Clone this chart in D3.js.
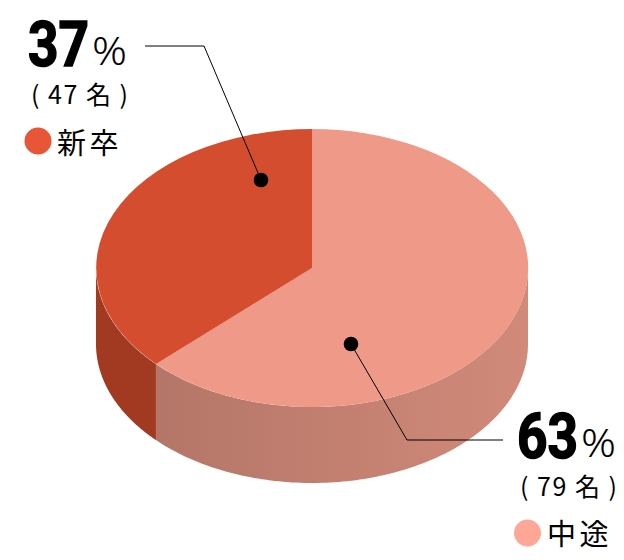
<!DOCTYPE html>
<html><head><meta charset="utf-8">
<script src="https://cdn.jsdelivr.net/npm/d3@7"></script>
<style>html,body{margin:0;background:#fff}svg{display:block}text{fill:#000}</style>
</head><body><svg id="c" width="624" height="560"></svg>
<script>
const categories = ["中途","新卒"];
const shares = [62.85,37.15];
const shareLabels = ["63","37"];
const counts = [79,47];
const topColors = ["#ef9a89","#d54d2f"];
const legendColors = ["#ffa797","#e75636"];
const sideColor = "#a23a21";

const W=624,H=560,cx=312,cy=268,rx=216,ry=139,depth=76;
const svg=d3.select("#c");
const defs=svg.append("defs");
const g=defs.append("linearGradient").attr("id","wall").attr("gradientUnits","userSpaceOnUse")
 .attr("x1",156).attr("x2",528).attr("y1",0).attr("y2",0);
g.append("stop").attr("offset",0).attr("stop-color","#b47668");
g.append("stop").attr("offset",1).attr("stop-color","#d18a7a");

const pie=d3.pie().sort(null)(shares);
const px=d3.scaleLinear().domain([-1,1]).range([cx-rx,cx+rx]);
const py=d3.scaleLinear().domain([-1,1]).range([cy-ry,cy+ry]);

const wall=(a0,a1)=>{
  const n=120, pts=d3.range(n+1).map(i=>a0+(a1-a0)*i/n);
  const upper=pts.map(a=>[px(Math.sin(a)),py(-Math.cos(a))]);
  const lower=pts.slice().reverse().map(a=>[px(Math.sin(a)),py(-Math.cos(a))+depth]);
  return d3.line()(upper.concat(lower))+"Z";
};
pie.forEach((d,i)=>{
  const a0=Math.max(d.startAngle,Math.PI/2), a1=Math.min(d.endAngle,Math.PI*1.5);
  svg.append("path").attr("d",wall(a0,a1)).attr("fill",i===0?"url(#wall)":sideColor);
});
const arc=d3.arc().innerRadius(0).outerRadius(1);
const face=svg.append("g").attr("transform",`translate(${cx},${cy}) scale(${rx},${ry})`);
face.selectAll("path").data(pie).join("path").attr("d",arc).attr("fill",(d,i)=>topColors[i]);

const leaders=[
  {pts:[[351,344],[407,440],[503,440]],dot:[351,344]},
  {pts:[[261,180],[204,46],[145,46]],dot:[261,180]}
];
leaders.forEach(l=>{
  svg.append("path").attr("d",d3.line()(l.pts)).attr("fill","none").attr("stroke","#000").attr("stroke-width",1);
  svg.append("circle").attr("cx",l.dot[0]).attr("cy",l.dot[1]).attr("r",7.3).attr("fill","#000");
});

const sans='"Noto Sans CJK JP","Noto Sans",sans-serif';
const labels=[
 {x:517,y:458,pctx:581,pcty:457,cx:527.5,cy:533,ly:545,lx:547,cntx:520,cnty:496},
 {x:28,y:66,pctx:92,pcty:65,cx:38,cy:141,ly:154,lx:57,cntx:31,cnty:104}];
labels.forEach((l,i)=>{
  svg.append("text").attr("x",l.x).attr("y",l.y).attr("font-family",'"Liberation Sans Narrow","Roboto",sans-serif')
    .attr("font-weight",700).attr("font-size",63).attr("stroke","#000").attr("stroke-width",1.6).attr("textLength",61).attr("lengthAdjust","spacingAndGlyphs").text(shareLabels[i]);
  svg.append("text").attr("x",l.pctx).attr("y",l.pcty).attr("font-family",'"Noto Sans",sans-serif').attr("font-size",39).attr("font-weight",300)
    .attr("textLength",35).attr("lengthAdjust","spacingAndGlyphs").text("%");
  svg.append("text").attr("x",l.cntx).attr("y",l.cnty).attr("font-family",sans).attr("font-size",25).attr("letter-spacing",1.5).text(`( ${counts[i]} 名 )`);
  svg.append("circle").attr("cx",l.cx).attr("cy",l.cy).attr("r",13.5).attr("fill",legendColors[i]);
  svg.append("text").attr("x",l.lx).attr("y",l.ly).attr("font-family",sans).attr("font-size",29).attr("letter-spacing",3.5).text(categories[i]);
});
</script></body></html>
